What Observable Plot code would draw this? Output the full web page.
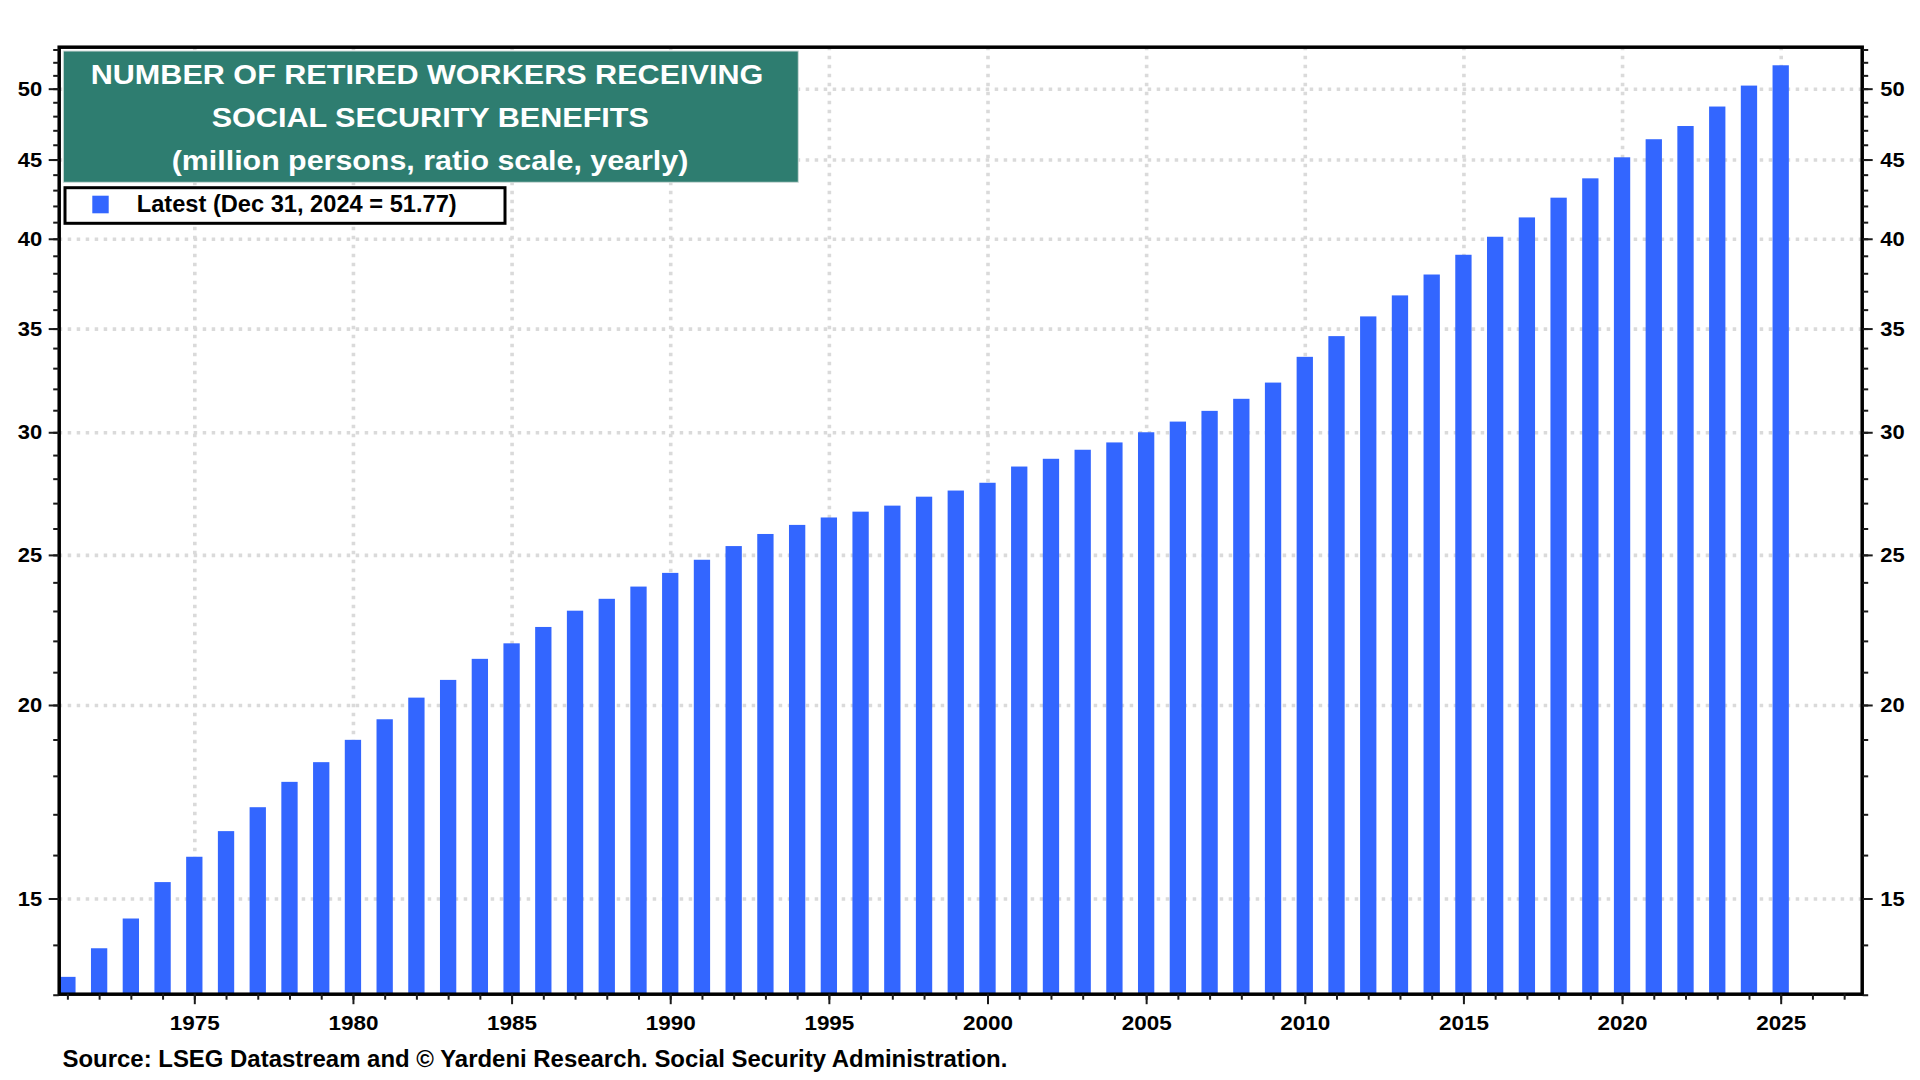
<!DOCTYPE html>
<html>
<head>
<meta charset="utf-8">
<script src="https://cdn.jsdelivr.net/npm/d3@7"></script>
<script src="https://cdn.jsdelivr.net/npm/@observablehq/plot@0.6"></script>
<style>
  html, body { margin: 0; padding: 0; background: #ffffff; }
  #chart { width: 1920px; height: 1080px; overflow: hidden; }
</style>
</head>
<body>
<div id="chart"></div>
<script>
// ---- Data (December of each year, million retired workers) ----
const years = [
  1970, 1971, 1972, 1973, 1974, 1975, 1976, 1977, 1978, 1979,
  1980, 1981, 1982, 1983, 1984, 1985, 1986, 1987, 1988, 1989,
  1990, 1991, 1992, 1993, 1994, 1995, 1996, 1997, 1998, 1999,
  2000, 2001, 2002, 2003, 2004, 2005, 2006, 2007, 2008, 2009,
  2010, 2011, 2012, 2013, 2014, 2015, 2016, 2017, 2018, 2019,
  2020, 2021, 2022, 2023, 2024
];
const retiredWorkers = [
  13.35, 13.93, 14.56, 15.37, 15.96, 16.58, 17.18, 17.84, 18.37, 18.99,
  19.58, 20.22, 20.76, 21.42, 21.92, 22.46, 23.01, 23.42, 23.85, 24.34,
  24.82, 25.33, 25.79, 26.14, 26.43, 26.66, 26.90, 27.26, 27.51, 27.83,
  28.51, 28.84, 29.23, 29.55, 30.00, 30.48, 30.97, 31.53, 32.30, 33.56,
  34.61, 35.64, 36.77, 37.93, 39.06, 40.12, 41.29, 42.52, 43.76, 45.15,
  46.38, 47.30, 48.69, 50.23, 51.77
];
const yTickValues = [15, 20, 25, 30, 35, 40, 45, 50];
const yMinorTicks = [13, 14, 15, 16, 17, 18, 19, 20, 21, 22, 23, 24, 25, 26, 27, 28, 29, 30,
  31, 32, 33, 34, 35, 36, 37, 38, 39, 40, 41, 42, 43, 44, 45, 46, 47, 48, 49, 50, 51, 52, 53];
const xTickValues = [1975, 1980, 1985, 1990, 1995, 2000, 2005, 2010, 2015, 2020, 2025];
const xMinorTicks = d3.range(1971, 2028);

const titleLines = [
  "NUMBER OF RETIRED WORKERS RECEIVING",
  "SOCIAL SECURITY BENEFITS",
  "(million persons, ratio scale, yearly)"
];
const legendLabel = "Latest (Dec 31, 2024 = 51.77)";
const sourceText = "Source: LSEG Datastream and \u00A9 Yardeni Research. Social Security Administration.";

// ---- Build table (bars sit at year-end, i.e. Dec 31) ----
const table = years.map((y, i) => ({ year: y, pos: y + 1, value: retiredWorkers[i] }));

const Y_MIN = 13.02, Y_MAX = 53.22;
const BLUE = "#3366ff";
const GRID = "#dadada";
const FONT = "'Liberation Sans', Arial, Helvetica, sans-serif";

const tickStyle = { stroke: "#1a1a1a", strokeWidth: 2, label: null };

const plot = Plot.plot({
  width: 1920,
  height: 1080,
  marginLeft: 58.7,
  marginRight: 58.3,
  marginTop: 46.7,
  marginBottom: 86.3,
  style: { fontFamily: FONT, fontWeight: "bold", color: "#000", background: "#fff", overflow: "visible" },
  x: { type: "linear", domain: [1970.726, 2027.553], label: null },
  y: { type: "log", domain: [Y_MIN, Y_MAX], label: null },
  marks: [
    Plot.ruleY(yTickValues, { stroke: GRID, strokeWidth: 3.6, strokeDasharray: "3.5,5.5" }),
    Plot.ruleX(xTickValues, { stroke: GRID, strokeWidth: 3.6, strokeDasharray: "3.5,5.5" }),
    Plot.rect(table, {
      x1: d => d.pos - 0.257,
      x2: d => d.pos + 0.257,
      y1: Y_MIN,
      y2: "value",
      fill: BLUE
    }),
    Plot.frame({ stroke: "#000", strokeWidth: 3.5 }),
    // left axis
    Plot.axisY(yMinorTicks, { anchor: "left", tickSize: 5.5, tickFormat: () => "", ...tickStyle }),
    Plot.axisY(yTickValues, { anchor: "left", tickSize: 10, tickPadding: 7, fontSize: 20.5, tickFormat: d => String(d), ...tickStyle }),
    // right axis
    Plot.axisY(yMinorTicks, { anchor: "right", tickSize: 5.5, tickFormat: () => "", ...tickStyle }),
    Plot.axisY(yTickValues, { anchor: "right", tickSize: 10, tickPadding: 8, fontSize: 20.5, tickFormat: d => String(d), ...tickStyle }),
    // bottom axis
    Plot.axisX(xMinorTicks, { anchor: "bottom", tickSize: 6, tickFormat: () => "", ...tickStyle }),
    Plot.axisX(xTickValues, { anchor: "bottom", tickSize: 10.5, tickPadding: 10, fontSize: 21, tickFormat: d => String(d), ...tickStyle })
  ]
});

document.getElementById("chart").append(plot);

// Slight horizontal widening of the tick labels (the original's type is a touch wide)
const svg = d3.select(plot);
svg.selectAll("text").each(function () {
  const w = this.getComputedTextLength();
  if (w > 0) {
    this.setAttribute("textLength", (w * 1.07).toFixed(2));
    this.setAttribute("lengthAdjust", "spacingAndGlyphs");
  }
});

// ---- Title box ----
const deco = svg.append("g").attr("font-family", FONT).attr("font-weight", "bold");
deco.append("rect")
  .attr("x", 63.3).attr("y", 51).attr("width", 735).attr("height", 131.3)
  .attr("fill", "#2e7d70").attr("stroke", "#cfdcd9").attr("stroke-width", 1);

const titleSpecs = [
  { cx: 427, baseline: 84.3, len: 672.6 },
  { cx: 430.3, baseline: 127, len: 437.3 },
  { cx: 430, baseline: 170, len: 516.6 }
];
titleLines.forEach((t, i) => {
  deco.append("text")
    .attr("x", titleSpecs[i].cx).attr("y", titleSpecs[i].baseline)
    .attr("text-anchor", "middle")
    .attr("fill", "#ffffff")
    .attr("font-size", 27)
    .attr("textLength", titleSpecs[i].len)
    .attr("lengthAdjust", "spacingAndGlyphs")
    .text(t);
});

// ---- Legend box ----
deco.append("rect")
  .attr("x", 65).attr("y", 187.7).attr("width", 440).attr("height", 35.6)
  .attr("fill", "#ffffff").attr("stroke", "#000").attr("stroke-width", 3);
deco.append("rect")
  .attr("x", 92.3).attr("y", 195.7).attr("width", 16.4).attr("height", 17.6)
  .attr("fill", BLUE);
deco.append("text")
  .attr("x", 136.7).attr("y", 211.7)
  .attr("text-anchor", "start")
  .attr("fill", "#000").attr("font-size", 23)
  .attr("textLength", 320).attr("lengthAdjust", "spacingAndGlyphs")
  .text(legendLabel);

// ---- Source line ----
deco.append("text")
  .attr("x", 62.5).attr("y", 1067.3)
  .attr("text-anchor", "start")
  .attr("fill", "#000").attr("font-size", 23)
  .attr("textLength", 944.8).attr("lengthAdjust", "spacingAndGlyphs")
  .text(sourceText);
</script>
</body>
</html>
